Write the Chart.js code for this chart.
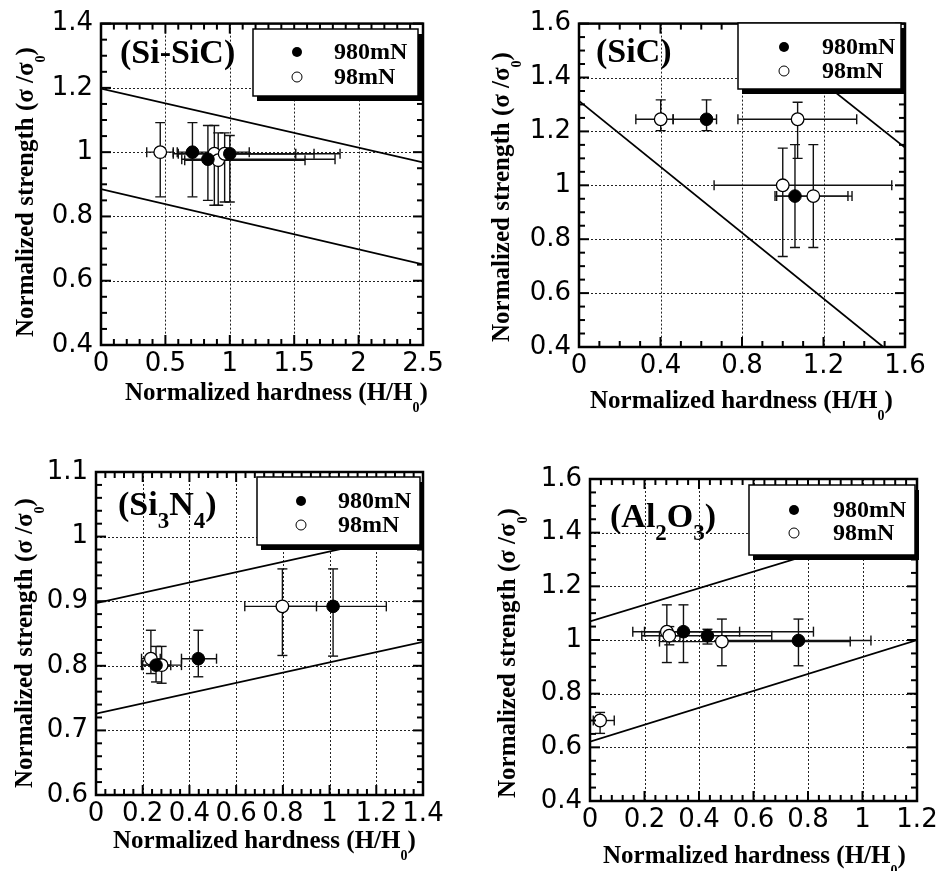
<!DOCTYPE html>
<html>
<head>
<meta charset="utf-8">
<script src="https://cdn.jsdelivr.net/npm/chart.js@4.4.1/dist/chart.umd.min.js"></script>
<style>
html, body { margin: 0; padding: 0; background: #fff; }
#wrap { position: relative; width: 942px; height: 871px; }
canvas { position: absolute; left: 0; top: 0; }
</style>
</head>
<body>
<div id="wrap">
  <canvas id="c1" width="942" height="871"></canvas>
  <canvas id="c2" width="942" height="871"></canvas>
  <canvas id="c3" width="942" height="871"></canvas>
  <canvas id="c4" width="942" height="871"></canvas>
</div>
<script>
// ---- values ----
// (Si-SiC)
const siSicHard980 = [0.71, 0.83, 1.0];
const siSicStr980 = [1.0, 0.978, 0.995];
const siSicHardErr980 = [[0.592, 1.151], [0.627, 1.817], [0.9, 1.512]];
const siSicStrErr980 = [[0.861, 1.092], [0.85, 1.083], [0.845, 1.052]];
const siSicHard98 = [0.46, 0.88, 0.91, 0.96];
const siSicStr98 = [1.0, 0.995, 0.975, 0.995];
const siSicHardErr98 = [[0.355, 0.561], [0.561, 1.856], [0.65, 1.584], [0.6, 1.654]];
const siSicStrErr98 = [[0.861, 1.092], [0.835, 1.083], [0.835, 1.06], [0.845, 1.06]];
const siSicBandHard = [0, 2.5];
const siSicBandUpper = [1.198, 0.968];
const siSicBandLower = [0.885, 0.651];
const siSicHardTicks = [0, 0.5, 1, 1.5, 2, 2.5];
const siSicStrTicks = [0.4, 0.6, 0.8, 1, 1.2, 1.4];

// (SiC)
const sicHard980 = [0.626, 1.06];
const sicStr980 = [1.245, 0.96];
const sicHardErr980 = [[0.462, 0.675], [0.962, 1.32]];
const sicStrErr980 = [[1.203, 1.317], [0.769, 1.151]];
const sicHard98 = [0.401, 1.073, 1.0, 1.15];
const sicStr98 = [1.245, 1.245, 1.0, 0.96];
const sicHardErr98 = [[0.279, 0.462], [0.78, 1.363], [0.663, 1.535], [0.97, 1.34]];
const sicStrErr98 = [[1.203, 1.317], [1.1, 1.308], [0.736, 1.138], [0.769, 1.151]];
const sicBandHard = [0, 1.6];
const sicBandUpper = [2.1, 1.14];
const sicBandLower = [1.313, 0.335];
const sicHardTicks = [0, 0.4, 0.8, 1.2, 1.6];
const sicStrTicks = [0.4, 0.6, 0.8, 1, 1.2, 1.4, 1.6];

// (Si3N4)
const si3n4Hard980 = [0.257, 0.438, 1.015];
const si3n4Str980 = [0.801, 0.811, 0.892];
const si3n4HardErr980 = [[0.2, 0.32], [0.366, 0.516], [0.787, 1.243]];
const si3n4StrErr980 = [[0.775, 0.83], [0.783, 0.855], [0.815, 0.95]];
const si3n4Hard98 = [0.235, 0.281, 0.798];
const si3n4Str98 = [0.811, 0.801, 0.892];
const si3n4HardErr98 = [[0.195, 0.275], [0.195, 0.366], [0.637, 0.944]];
const si3n4StrErr98 = [[0.788, 0.855], [0.773, 0.83], [0.816, 0.95]];
const si3n4BandHard = [0, 1.4];
const si3n4BandUpper = [0.897, 1.009];
const si3n4BandLower = [0.726, 0.837];
const si3n4HardTicks = [0, 0.2, 0.4, 0.6, 0.8, 1, 1.2, 1.4];
const si3n4StrTicks = [0.6, 0.7, 0.8, 0.9, 1, 1.1];

// (Al2O3)
const al2o3Hard980 = [0.343, 0.431, 0.765];
const al2o3Str980 = [1.031, 1.016, 0.998];
const al2o3HardErr980 = [[0.157, 0.549], [0.19, 0.667], [0.5, 1.031]];
const al2o3StrErr980 = [[0.916, 1.131], [0.985, 1.04], [0.904, 1.078]];
const al2o3Hard98 = [0.037, 0.282, 0.291, 0.484];
const al2o3Str98 = [0.70, 1.031, 1.016, 0.994];
const al2o3HardErr98 = [[0.012, 0.089], [0.2, 0.82], [0.255, 0.33], [0.255, 0.955]];
const al2o3StrErr98 = [[0.652, 0.73], [0.916, 1.131], [0.982, 1.05], [0.904, 1.078]];
const al2o3BandHard = [0, 1.2];
const al2o3BandUpper = [1.069, 1.44];
const al2o3BandLower = [0.621, 1.0];
const al2o3HardTicks = [0, 0.2, 0.4, 0.6, 0.8, 1, 1.2];
const al2o3StrTicks = [0.4, 0.6, 0.8, 1, 1.2, 1.4, 1.6];

const legendLabels = ['980mN', '98mN'];

// ---- layout / styling ----
const SERIF = '"Liberation Serif", "Times New Roman", serif';
const SANS = '"DejaVu Sans", sans-serif';
const Y_AXIS_W = 60, X_AXIS_H = 40;

const panels = [
    { id: 'c1', area: {l: 101, r: 423, t: 23, b: 345},
      x: {min: 0, max: 2.5, ticks: siSicHardTicks, minor: 0.1},
      y: {min: 0.4, max: 1.4, ticks: siSicStrTicks, minor: 0.05},
      filled: [siSicHard980, siSicStr980, siSicHardErr980, siSicStrErr980],
      open: [siSicHard98, siSicStr98, siSicHardErr98, siSicStrErr98],
      band: [siSicBandHard, siSicBandUpper, siSicBandLower],
      name: [['(Si-SiC)', 0]], nameAt: [120, 63],
      legend: {x: 253, y: 29, w: 165, h: 67, mx: 297, tx: 334, r1: 59, r2: 84},
      xTitle: [125, 400], yTitle: [33, 337] },
    { id: 'c2', area: {l: 579, r: 905, t: 22, b: 347},
      x: {min: 0, max: 1.6, ticks: sicHardTicks, minor: 0.1},
      y: {min: 0.4, max: 1.6, ticks: sicStrTicks, minor: 0.05},
      filled: [sicHard980, sicStr980, sicHardErr980, sicStrErr980],
      open: [sicHard98, sicStr98, sicHardErr98, sicStrErr98],
      band: [sicBandHard, sicBandUpper, sicBandLower],
      name: [['(SiC)', 0]], nameAt: [596, 62],
      legend: {x: 738, y: 23, w: 163, h: 66, mx: 784, tx: 822, r1: 54, r2: 78},
      xTitle: [590, 408], yTitle: [509, 342] },
    { id: 'c3', area: {l: 96, r: 423, t: 472, b: 795},
      x: {min: 0, max: 1.4, ticks: si3n4HardTicks, minor: 0.04},
      y: {min: 0.6, max: 1.1, ticks: si3n4StrTicks, minor: 0.02},
      filled: [si3n4Hard980, si3n4Str980, si3n4HardErr980, si3n4StrErr980],
      open: [si3n4Hard98, si3n4Str98, si3n4HardErr98, si3n4StrErr98],
      band: [si3n4BandHard, si3n4BandUpper, si3n4BandLower],
      name: [['(Si', 0], ['3', 1], ['N', 0], ['4', 1], [')', 0]], nameAt: [118, 515],
      legend: {x: 257, y: 477, w: 163, h: 68, mx: 301, tx: 338, r1: 508, r2: 532},
      xTitle: [113, 848], yTitle: [32, 788] },
    { id: 'c4', area: {l: 590, r: 917, t: 479, b: 801},
      x: {min: 0, max: 1.2, ticks: al2o3HardTicks, minor: 0.04},
      y: {min: 0.4, max: 1.6, ticks: al2o3StrTicks, minor: 0.05},
      filled: [al2o3Hard980, al2o3Str980, al2o3HardErr980, al2o3StrErr980],
      open: [al2o3Hard98, al2o3Str98, al2o3HardErr98, al2o3StrErr98],
      band: [al2o3BandHard, al2o3BandUpper, al2o3BandLower],
      name: [['(Al', 0], ['2', 1], ['O', 0], ['3', 1], [')', 0]], nameAt: [610, 527],
      legend: {x: 749, y: 485, w: 166, h: 70, mx: 794, tx: 833, r1: 517, r2: 540},
      xTitle: [603, 863], yTitle: [515, 798] }
];

const xTitleSegs = [['Normalized hardness (H/H', 0], ['0', 1], [')', 0]];
const yTitleSegs = [['Normalized strength (σ /σ', 0], ['0', 1], [')', 0]];

// text with dropped subscripts
const drawRich = (ctx, segs, x, y, big, small, dy) => {
    let cx = x;
    ctx.textAlign = 'left';
    ctx.textBaseline = 'alphabetic';
    for (const [t, sub] of segs) {
        ctx.font = sub ? small : big;
        ctx.fillText(t, cx, sub ? y + dy : y);
        cx += ctx.measureText(t).width;
    }
};

const line = (ctx, x1, y1, x2, y2) => {
    ctx.beginPath();
    ctx.moveTo(x1, y1);
    ctx.lineTo(x2, y2);
    ctx.stroke();
};

const makePlugin = (p) => ({
    id: 'panelDecor',
    beforeDatasetsDraw(chart) {
        const ctx = chart.ctx, a = chart.chartArea;
        const xs = chart.scales.x, ys = chart.scales.y;
        ctx.save();
        // dotted grid
        ctx.strokeStyle = '#222';
        ctx.lineWidth = 1;
        ctx.setLineDash([2, 2]);
        p.x.ticks.forEach(v => {
            if (v <= p.x.min || v >= p.x.max) return;
            const px = Math.round(xs.getPixelForValue(v)) + 0.5;
            line(ctx, px, a.top, px, a.bottom);
        });
        p.y.ticks.forEach(v => {
            if (v <= p.y.min || v >= p.y.max) return;
            const py = Math.round(ys.getPixelForValue(v)) + 0.5;
            line(ctx, a.left, py, a.right, py);
        });
        ctx.setLineDash([]);
        // error bars
        ctx.beginPath();
        ctx.rect(a.left, a.top, a.right - a.left, a.bottom - a.top);
        ctx.clip();
        ctx.strokeStyle = '#111';
        ctx.lineWidth = 1.4;
        const cap = 5;
        [p.filled, p.open].forEach(([hx, sy, hErr, sErr]) => {
            hx.forEach((hv, i) => {
                const px = xs.getPixelForValue(hv), py = ys.getPixelForValue(sy[i]);
                const x1 = xs.getPixelForValue(hErr[i][0]), x2 = xs.getPixelForValue(hErr[i][1]);
                const y1 = ys.getPixelForValue(sErr[i][0]), y2 = ys.getPixelForValue(sErr[i][1]);
                line(ctx, x1, py, x2, py);
                line(ctx, x1, py - cap, x1, py + cap);
                line(ctx, x2, py - cap, x2, py + cap);
                line(ctx, px, y1, px, y2);
                line(ctx, px - cap, y1, px + cap, y1);
                line(ctx, px - cap, y2, px + cap, y2);
            });
        });
        ctx.restore();
    },
    afterDatasetsDraw(chart) {
        const ctx = chart.ctx, a = chart.chartArea;
        const xs = chart.scales.x, ys = chart.scales.y;
        ctx.save();
        ctx.strokeStyle = '#000';
        ctx.fillStyle = '#000';
        // inward ticks on all four sides
        ctx.lineWidth = 2;
        const isMajor = (arr, v) => arr.some(m => Math.abs(m - v) < 1e-6);
        const nx = Math.round((p.x.max - p.x.min) / p.x.minor);
        for (let i = 0; i <= nx; i++) {
            const v = p.x.min + i * p.x.minor;
            const len = isMajor(p.x.ticks, v) ? 10 : 6;
            const px = xs.getPixelForValue(v);
            line(ctx, px, a.bottom, px, a.bottom - len);
            line(ctx, px, a.top, px, a.top + len);
        }
        const ny = Math.round((p.y.max - p.y.min) / p.y.minor);
        for (let i = 0; i <= ny; i++) {
            const v = p.y.min + i * p.y.minor;
            const len = isMajor(p.y.ticks, v) ? 10 : 6;
            const py = ys.getPixelForValue(v);
            line(ctx, a.left, py, a.left + len, py);
            line(ctx, a.right, py, a.right - len, py);
        }
        // frame
        ctx.lineWidth = 2.5;
        ctx.strokeRect(a.left, a.top, a.right - a.left, a.bottom - a.top);

        // legend box with drop shadow
        const L = p.legend;
        ctx.fillStyle = '#000';
        ctx.fillRect(L.x + 4, L.y + 5, L.w, L.h);
        ctx.fillStyle = '#fff';
        ctx.fillRect(L.x, L.y, L.w, L.h);
        ctx.lineWidth = 1.5;
        ctx.strokeRect(L.x, L.y, L.w, L.h);
        ctx.lineWidth = 1;
        ctx.beginPath();
        ctx.arc(L.mx, L.r1 - 7, 5, 0, Math.PI * 2);
        ctx.fillStyle = '#000';
        ctx.fill();
        ctx.beginPath();
        ctx.arc(L.mx, L.r2 - 7, 5, 0, Math.PI * 2);
        ctx.fillStyle = '#fff';
        ctx.fill();
        ctx.stroke();
        ctx.fillStyle = '#000';
        ctx.font = `700 24px ${SERIF}`;
        ctx.textAlign = 'left';
        ctx.textBaseline = 'alphabetic';
        ctx.fillText(legendLabels[0], L.tx, L.r1);
        ctx.fillText(legendLabels[1], L.tx, L.r2);

        // material name
        drawRich(ctx, p.name, p.nameAt[0], p.nameAt[1], `700 34px ${SERIF}`, `700 23px ${SERIF}`, 13);

        // axis titles
        drawRich(ctx, xTitleSegs, p.xTitle[0], p.xTitle[1], `700 25px ${SERIF}`, `700 14px ${SERIF}`, 12);
        ctx.translate(p.yTitle[0], p.yTitle[1]);
        ctx.rotate(-Math.PI / 2);
        drawRich(ctx, yTitleSegs, 0, 0, `700 25px ${SERIF}`, `700 14px ${SERIF}`, 12);
        ctx.restore();
    }
});

const points = (xs, ys) => xs.map((x, i) => ({x: x, y: ys[i]}));

const axisTicks = (pad) => ({
    autoSkip: false,
    maxRotation: 0,
    minRotation: 0,
    padding: pad,
    color: '#000',
    font: {family: SANS, size: 26},
    callback: v => String(v)
});

panels.forEach(p => {
    const a = p.area;
    const [bandX, bandUp, bandLo] = p.band;
    new Chart(document.getElementById(p.id), {
        type: 'scatter',
        data: {
            datasets: [
                { label: legendLabels[0], data: points(p.filled[0], p.filled[1]),
                  pointRadius: 6.3, pointHoverRadius: 6.3, backgroundColor: '#000', borderColor: '#000', borderWidth: 1 },
                { label: legendLabels[1], data: points(p.open[0], p.open[1]),
                  pointRadius: 6.3, pointHoverRadius: 6.3, backgroundColor: '#fff', borderColor: '#000', borderWidth: 1.3 },
                { label: 'upper', data: points(bandX, bandUp), showLine: true,
                  pointRadius: 0, borderColor: '#000', borderWidth: 1.8 },
                { label: 'lower', data: points(bandX, bandLo), showLine: true,
                  pointRadius: 0, borderColor: '#000', borderWidth: 1.8 }
            ]
        },
        options: {
            responsive: false,
            animation: false,
            events: [],
            layout: { padding: { left: a.l - Y_AXIS_W, right: 942 - a.r, top: a.t, bottom: 871 - a.b - X_AXIS_H } },
            plugins: { legend: { display: false }, tooltip: { enabled: false } },
            scales: {
                x: {
                    type: 'linear', min: p.x.min, max: p.x.max,
                    afterBuildTicks: s => { s.ticks = p.x.ticks.map(v => ({value: v})); },
                    afterFit: s => { s.height = X_AXIS_H; },
                    grid: { display: false, drawTicks: false },
                    border: { display: false },
                    ticks: axisTicks(4)
                },
                y: {
                    type: 'linear', min: p.y.min, max: p.y.max,
                    afterBuildTicks: s => { s.ticks = p.y.ticks.map(v => ({value: v})); },
                    afterFit: s => { s.width = Y_AXIS_W; },
                    grid: { display: false, drawTicks: false },
                    border: { display: false },
                    ticks: axisTicks(8)
                }
            }
        },
        plugins: [makePlugin(p)]
    });
});
</script>
</body>
</html>
